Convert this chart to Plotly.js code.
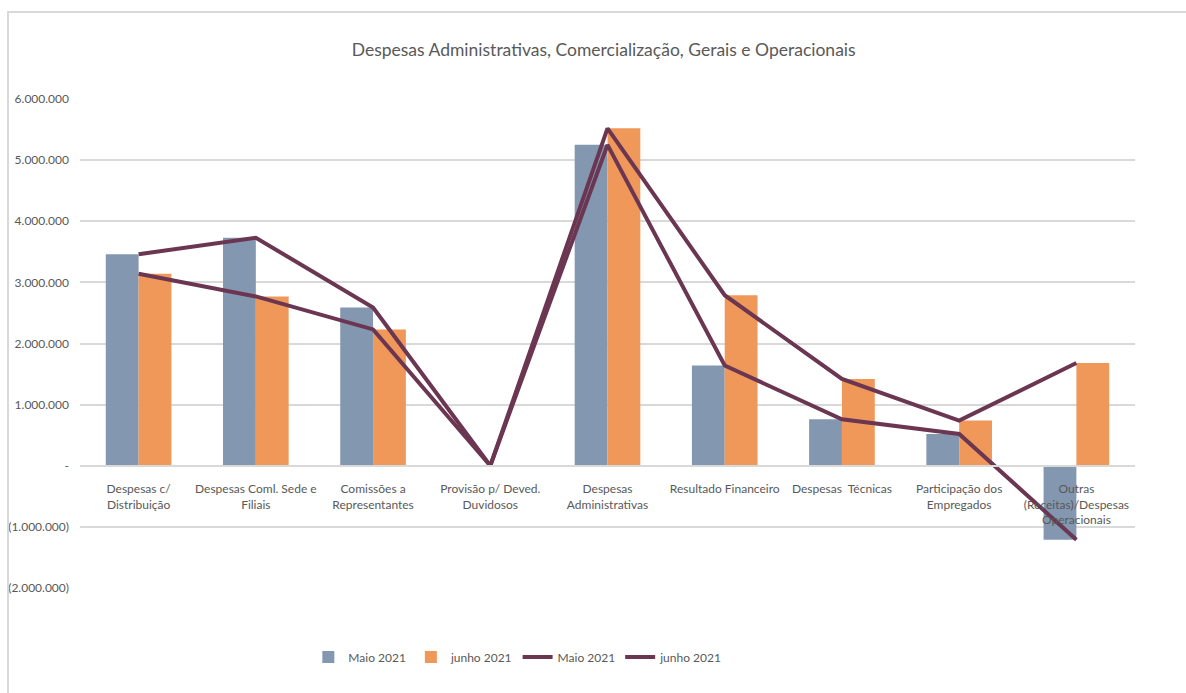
<!DOCTYPE html>
<html>
<head>
<meta charset="utf-8">
<script src="https://cdn.plot.ly/plotly-3.0.1.min.js"></script>
<style>
  html, body { margin: 0; padding: 0; background: #fff; }
  #wrap { position: relative; width: 1186px; height: 693px; }
  #frame { position: absolute; left: 7px; top: 11px; right: 0; bottom: 0; border-left: 2px solid #d9d9d9; border-top: 2px solid #d9d9d9; pointer-events: none; }
  #chart { position: absolute; left: 0; top: 0; width: 1186px; height: 693px; }
</style>
</head>
<body>
<div id="wrap">
  <div id="chart"></div>
  <div id="frame"></div>
</div>
<script>
const categories = [
  "Despesas c/<br>Distribuição",
  "Despesas Coml. Sede e<br>Filiais",
  "Comissões a<br>Representantes",
  "Provisão p/ Deved.<br>Duvidosos",
  "Despesas<br>Administrativas",
  "Resultado Financeiro",
  "Despesas  Técnicas",
  "Participação dos<br>Empregados",
  "Outras<br>(Receitas)/Despesas<br>Operacionais"
];
const maio2021 = [3460000, 3730000, 2590000, 0, 5250000, 1640000, 760000, 520000, -1210000];
const junho2021 = [3140000, 2770000, 2230000, 0, 5520000, 2790000, 1420000, 740000, 1680000];
const yTickVals = [6000000, 5000000, 4000000, 3000000, 2000000, 1000000, 0, -1000000, -2000000];
const yTickText = ["6.000.000", "5.000.000", "4.000.000", "3.000.000", "2.000.000", "1.000.000", "-", "(1.000.000)", "(2.000.000)"];

const FONT = 'Lato, "Open Sans", sans-serif';
const TXT = '#595959';
const BLUE = '#8497b0';
const ORANGE = '#f0985a';
const LINE = '#6b3652';

const data = [
  { type: 'bar', name: 'Maio 2021', x: categories, y: maio2021, marker: { color: BLUE } },
  { type: 'bar', name: 'junho 2021', x: categories, y: junho2021, marker: { color: ORANGE } },
  { type: 'scatter', mode: 'lines', name: 'Maio 2021', x: categories, y: maio2021, line: { color: LINE, width: 4 } },
  { type: 'scatter', mode: 'lines', name: 'junho 2021', x: categories, y: junho2021, line: { color: LINE, width: 4 } }
];

const layout = {
  width: 1186, height: 693,
  margin: { l: 80, r: 51, t: 99, b: 105 },
  paper_bgcolor: 'rgba(0,0,0,0)',
  plot_bgcolor: 'rgba(0,0,0,0)',
  font: { family: FONT, color: TXT, size: 12 },
  title: { text: 'Despesas Administrativas, Comercialização, Gerais e Operacionais', font: { family: FONT, size: 17.5, color: TXT }, x: 0.509, xanchor: 'center', y: 0.928, yanchor: 'middle' },
  barmode: 'group',
  bargap: 0.44,
  bargroupgap: 0,
  showlegend: true,
  legend: { orientation: 'h', x: 0.415, xanchor: 'center', y: -0.141, yanchor: 'middle', font: { family: FONT, size: 12, color: TXT }, traceorder: 'normal' },
  xaxis: {
    type: 'category', anchor: 'free', position: 0.25,
    showgrid: false, showline: true, linecolor: '#d9d9d9', linewidth: 2,
    ticks: '', tickfont: { family: FONT, size: 12, color: TXT }, tickangle: 0,
    ticklabelstandoff: 12,
    automargin: false
  },
  yaxis: {
    range: [-2000000, 6000000],
    tickvals: yTickVals, ticktext: yTickText,
    showgrid: true, gridcolor: '#d9d9d9', gridwidth: 2,
    zeroline: false, showline: false, ticks: '',
    tickfont: { family: FONT, size: 12, color: TXT },
    ticklabelstandoff: 10,
    automargin: false
  }
};

Plotly.newPlot('chart', data, layout, { displayModeBar: false, staticPlot: true });
</script>
</body>
</html>
